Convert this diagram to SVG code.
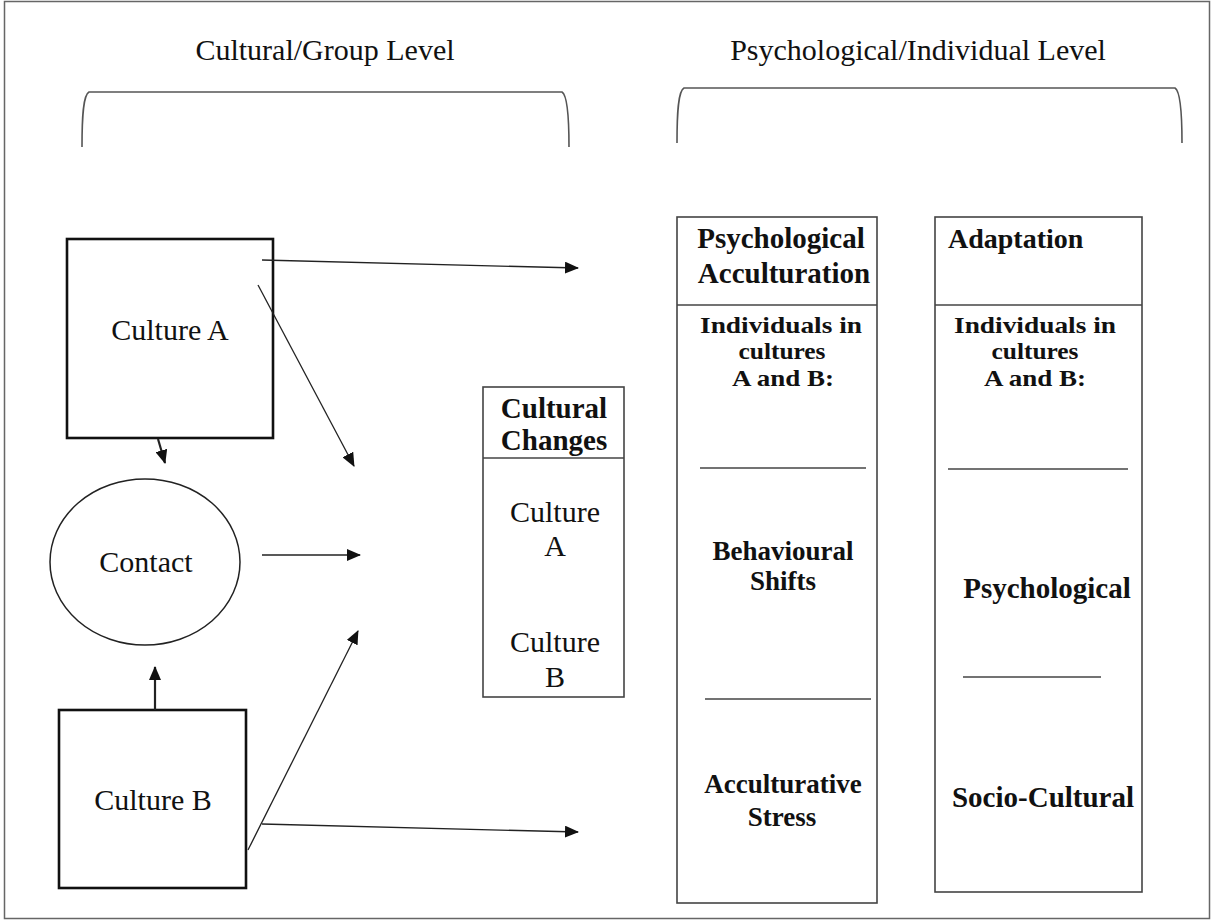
<svg xmlns="http://www.w3.org/2000/svg" width="1212" height="923" viewBox="0 0 1212 923">
<style>
text{fill:#111;text-anchor:middle}
.r{font-size:30px}
.hb{font-size:29px;font-weight:bold}
.ib{font-size:24px;font-weight:bold}
.bb{font-size:27px;font-weight:bold}
.ab{font-size:29px;font-weight:bold}
.box{fill:#fff;stroke:#444;stroke-width:1.6}
.thick{fill:#fff;stroke:#111;stroke-width:2.6}
.div{stroke:#444;stroke-width:1.6;fill:none}
.br{stroke:#555;stroke-width:1.6;fill:none}
.c{stroke:#222;stroke-width:1.3;fill:none;marker-end:url(#ah)}
.ct{stroke:#222;stroke-width:2.2;fill:none;marker-end:url(#ah)}
</style>
<defs>
<marker id="ah" markerUnits="userSpaceOnUse" markerWidth="14" markerHeight="12" refX="13" refY="6" orient="auto">
<path d="M0,0 L14,6 L0,12 Z" fill="#111"/>
</marker>
</defs>
<rect x="0" y="0" width="1212" height="923" fill="#fff"/>
<rect x="4.5" y="1.5" width="1205" height="917" fill="none" stroke="#666" stroke-width="1.5"/>
<g font-family="Liberation Serif, Tinos, DejaVu Serif, serif">
<g id="header-cultural">
<path class="br" d="M82,147 C82,118 83,95 89,92 L562,92 C567,95 569,118 569,147"/>
<text class="r" x="325" y="60">Cultural/Group Level</text>
</g>
<g id="header-psychological">
<path class="br" d="M677,143 C677,114 678,91 684,88 L1175,88 C1180,91 1182,114 1182,143"/>
<text class="r" x="918" y="60">Psychological/Individual Level</text>
</g>

<g id="culture-a">
<rect class="thick" x="67" y="239" width="206" height="199"/>
<text class="r" x="170" y="340">Culture A</text>
</g>
<g id="contact">
<ellipse cx="145" cy="562" rx="95" ry="83" fill="#fff" stroke="#222" stroke-width="1.5"/>
<text class="r" x="146" y="572">Contact</text>
</g>
<g id="culture-b">
<rect class="thick" x="59" y="710" width="187" height="178"/>
<text class="r" x="153" y="810">Culture B</text>
</g>

<g id="cultural-changes">
<rect class="box" x="483" y="387" width="141" height="310"/>
<line class="div" x1="483" y1="458" x2="624" y2="458"/>
<text class="hb" x="554" y="418">Cultural</text>
<text class="hb" x="554" y="450">Changes</text>
<text class="r" x="555" y="522">Culture</text>
<text class="r" x="555" y="556">A</text>
<text class="r" x="555" y="652">Culture</text>
<text class="r" x="555" y="687">B</text>
</g>

<g id="psychological-acculturation">
<rect class="box" x="677" y="217" width="200" height="686"/>
<line class="div" x1="677" y1="305" x2="877" y2="305"/>
<text class="hb" x="781" y="248">Psychological</text>
<text class="hb" x="784" y="283">Acculturation</text>
<text class="ib" x="781" y="333" textLength="162" lengthAdjust="spacingAndGlyphs">Individuals in</text>
<text class="ib" x="782" y="359" textLength="87" lengthAdjust="spacingAndGlyphs">cultures</text>
<text class="ib" x="783" y="386" textLength="102" lengthAdjust="spacingAndGlyphs">A and B:</text>
<line class="div" x1="700" y1="468" x2="866" y2="468"/>
<text class="bb" x="783" y="560">Behavioural</text>
<text class="bb" x="783" y="590">Shifts</text>
<line class="div" x1="705" y1="699" x2="871" y2="699"/>
<text class="bb" x="783" y="793">Acculturative</text>
<text class="bb" x="782" y="826">Stress</text>
</g>

<g id="adaptation">
<rect class="box" x="935" y="217" width="207" height="675"/>
<line class="div" x1="935" y1="305" x2="1142" y2="305"/>
<text class="hb" x="948" y="248" style="text-anchor:start;font-size:28px">Adaptation</text>
<text class="ib" x="1035" y="333" textLength="162" lengthAdjust="spacingAndGlyphs">Individuals in</text>
<text class="ib" x="1035" y="359" textLength="87" lengthAdjust="spacingAndGlyphs">cultures</text>
<text class="ib" x="1035" y="386" textLength="102" lengthAdjust="spacingAndGlyphs">A and B:</text>
<line class="div" x1="948" y1="469" x2="1128" y2="469"/>
<text class="ab" x="1047" y="598">Psychological</text>
<line class="div" x1="963" y1="677" x2="1101" y2="677"/>
<text class="ab" x="1043" y="807">Socio-Cultural</text>
</g>
</g>
<g id="connectors">
<line class="ct" x1="158" y1="439" x2="165" y2="463"/>
<line class="ct" x1="155" y1="710" x2="155" y2="667"/>
<line class="c" x1="262" y1="260" x2="578" y2="268"/>
<line class="c" x1="258" y1="285" x2="354" y2="466"/>
<line class="c" x1="262" y1="555" x2="360" y2="555"/>
<line class="c" x1="248" y1="850" x2="358" y2="631"/>
<line class="c" x1="262" y1="824" x2="578" y2="832"/>
</g>
</svg>
